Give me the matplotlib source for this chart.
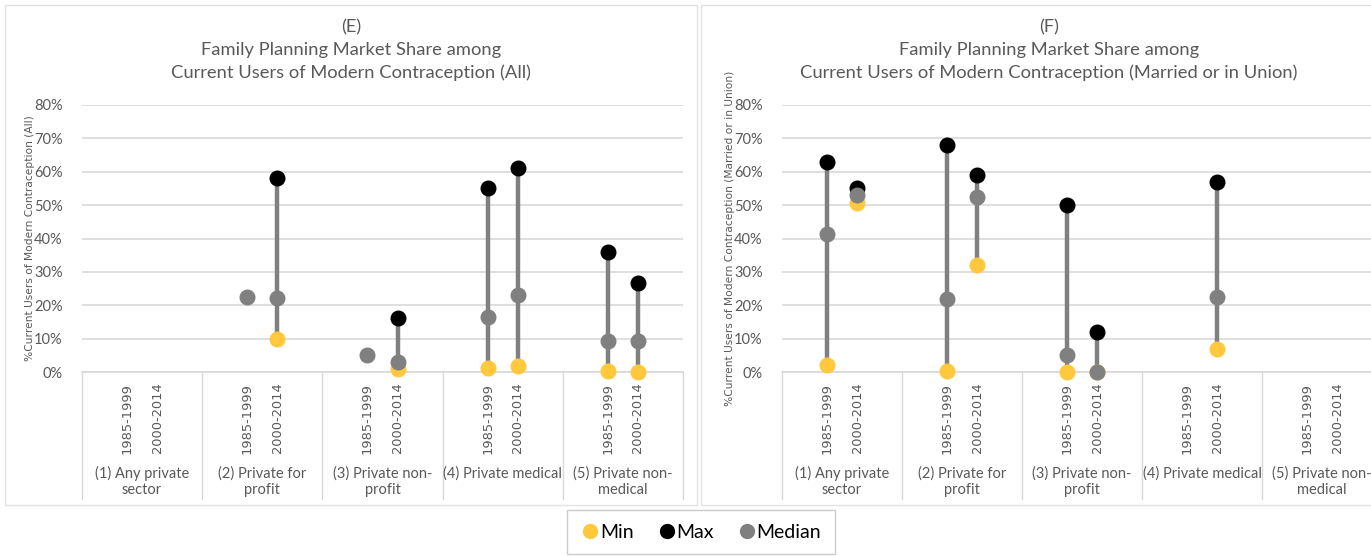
import matplotlib
matplotlib.use("Agg")
import matplotlib.pyplot as plt
import matplotlib.transforms as mtransforms
from matplotlib.patches import Rectangle
from matplotlib.lines import Line2D
import numpy as np

# ---------------- data ----------------
categories = ["(1) Any private\nsector", "(2) Private for\nprofit", "(3) Private non-\nprofit",
              "(4) Private medical", "(5) Private non-\nmedical"]
periods = ["1985-1999", "2000-2014"]

# panel E (All); order: cat1-p1, cat1-p2, cat2-p1, ...  (None = no data)
e_min = [None, None, None, 10.0, None, 1.0, 1.2, 1.8, 0.3, 0.0]
e_max = [None, None, None, 58.0, None, 16.3, 55.0, 61.0, 36.0, 26.8]
e_med = [None, None, 22.5, 22.3, 5.0, 3.0, 16.5, 23.0, 9.2, 9.2]

# panel F (Married or in Union)
f_min = [2.2, 50.7, 0.3, 32.2, 0.0, 0.0, None, 7.0, None, None]
f_max = [62.8, 55.0, 68.0, 59.0, 50.0, 12.0, None, 57.0, None, None]
f_med = [41.4, 53.0, 21.8, 52.5, 5.0, 0.0, None, 22.5, None, None]

titles = ["(E)\nFamily Planning Market Share among\nCurrent Users of Modern Contraception (All)",
          "(F)\nFamily Planning Market Share among\nCurrent Users of Modern Contraception (Married or in Union)"]
ylabels = ["%Current Users of Modern Contraception (All)",
           "%Current Users of Modern Contraception (Married or in Union)"]
yticks = [0, 10, 20, 30, 40, 50, 60, 70, 80]

# ---------------- style ----------------
W, H = 1371, 556
C_MIN = "#FFC83D"
C_MAX = "#000000"
C_MED = "#808080"
C_TXT = "#595959"
C_GRID = "#D9D9D9"
FONT = "Lato"

fig = plt.figure(figsize=(W / 100, H / 100), dpi=100)


def px_axes(x0, y0, x1, y1):
    return fig.add_axes([x0 / W, 1 - y1 / H, (x1 - x0) / W, (y1 - y0) / H])


# panel boxes
for (bx0, bx1) in [(5, 697), (701, 1397)]:
    fig.patches.append(Rectangle((bx0 / W, 1 - 505 / H), (bx1 - bx0) / W, 500 / H,
                                 transform=fig.transFigure, fill=False,
                                 edgecolor="#E3E3E3", linewidth=1.0))


def draw_panel(ax, vmin, vmax, vmed, title, ylabel, title_cx, last):
    n_cat = len(categories)
    xs = []
    for i in range(n_cat):
        xs.append(i + 0.375)
        xs.append(i + 0.625)
    ax.set_xlim(0, n_cat)
    ax.set_ylim(0, 80)
    ax.set_yticks(yticks)
    ax.set_yticklabels([f"{t}%" for t in yticks], fontsize=10.5, color=C_TXT, family=FONT)
    ax.tick_params(axis="y", length=0, pad=14)
    ax.set_xticks([])
    for s in ["top", "right", "left"]:
        ax.spines[s].set_visible(False)
    ax.spines["bottom"].set_color(C_GRID)
    ax.spines["bottom"].set_linewidth(1.2)
    ax.grid(axis="y", color=C_GRID, linewidth=1.2)
    ax.set_axisbelow(True)

    # high-low lines
    for x, lo, hi in zip(xs, vmin, vmax):
        if lo is not None and hi is not None:
            ax.plot([x, x], [lo, hi], color=C_MED, linewidth=3.2, zorder=2, solid_capstyle="butt")
    for vals, col in [(vmin, C_MIN), (vmax, C_MAX), (vmed, C_MED)]:
        px = [x for x, v in zip(xs, vals) if v is not None]
        py = [v for v in vals if v is not None]
        ax.plot(px, py, linestyle="none", marker="o", markersize=10.5,
                markerfacecolor=col, markeredgecolor=col, zorder=3, clip_on=False)

    trans = mtransforms.blended_transform_factory(ax.transData, ax.transAxes)
    # category dividers below axis
    for b in range(n_cat + 1):
        if b == n_cat and last:
            continue
        ax.plot([b, b], [0, -0.476], transform=trans, color=C_GRID, linewidth=1.0,
                clip_on=False)
    # period labels
    for x, p in zip(xs, periods * n_cat):
        ax.text(x, -0.04, p, transform=trans, rotation=90, ha="center", va="top",
                fontsize=9.4, color=C_TXT, family="DejaVu Sans")
    # category labels
    for i, c in enumerate(categories):
        ax.text(i + 0.5, -0.352, c, transform=trans, ha="center", va="top",
                fontsize=10.5, color=C_TXT, family=FONT, linespacing=1.2)

    ax.set_ylabel(ylabel, fontsize=7.7, color=C_TXT, family="DejaVu Sans", labelpad=-1)
    fig.text(title_cx / W, 1 - 19 / H, title, ha="center", va="top", fontsize=13.2,
             color=C_TXT, family=FONT, linespacing=1.5)


axes = [px_axes(82, 105, 683, 372), px_axes(782, 105, 1382, 372)]
draw_panel(axes[0], e_min, e_max, e_med, titles[0], ylabels[0], 351, False)
draw_panel(axes[1], f_min, f_max, f_med, titles[1], ylabels[1], 1049, True)

# legend
handles = [Line2D([], [], linestyle="none", marker="o", markersize=10,
                  markerfacecolor=c, markeredgecolor=c) for c in (C_MIN, C_MAX, C_MED)]
leg = fig.legend(handles, ["Min", "Max", "Median"], loc="center",
                 bbox_to_anchor=(701 / W, 1 - 532 / H), ncol=3, frameon=True,
                 fancybox=False, edgecolor="#BFBFBF",
                 handletextpad=0.0, columnspacing=1.2, handlelength=1.0,
                 borderpad=0.7, prop={"family": FONT, "size": 14})
leg.get_frame().set_linewidth(1.0)
for t in leg.get_texts():
    t.set_color("#000000")

fig.savefig("out.png", dpi=100)
